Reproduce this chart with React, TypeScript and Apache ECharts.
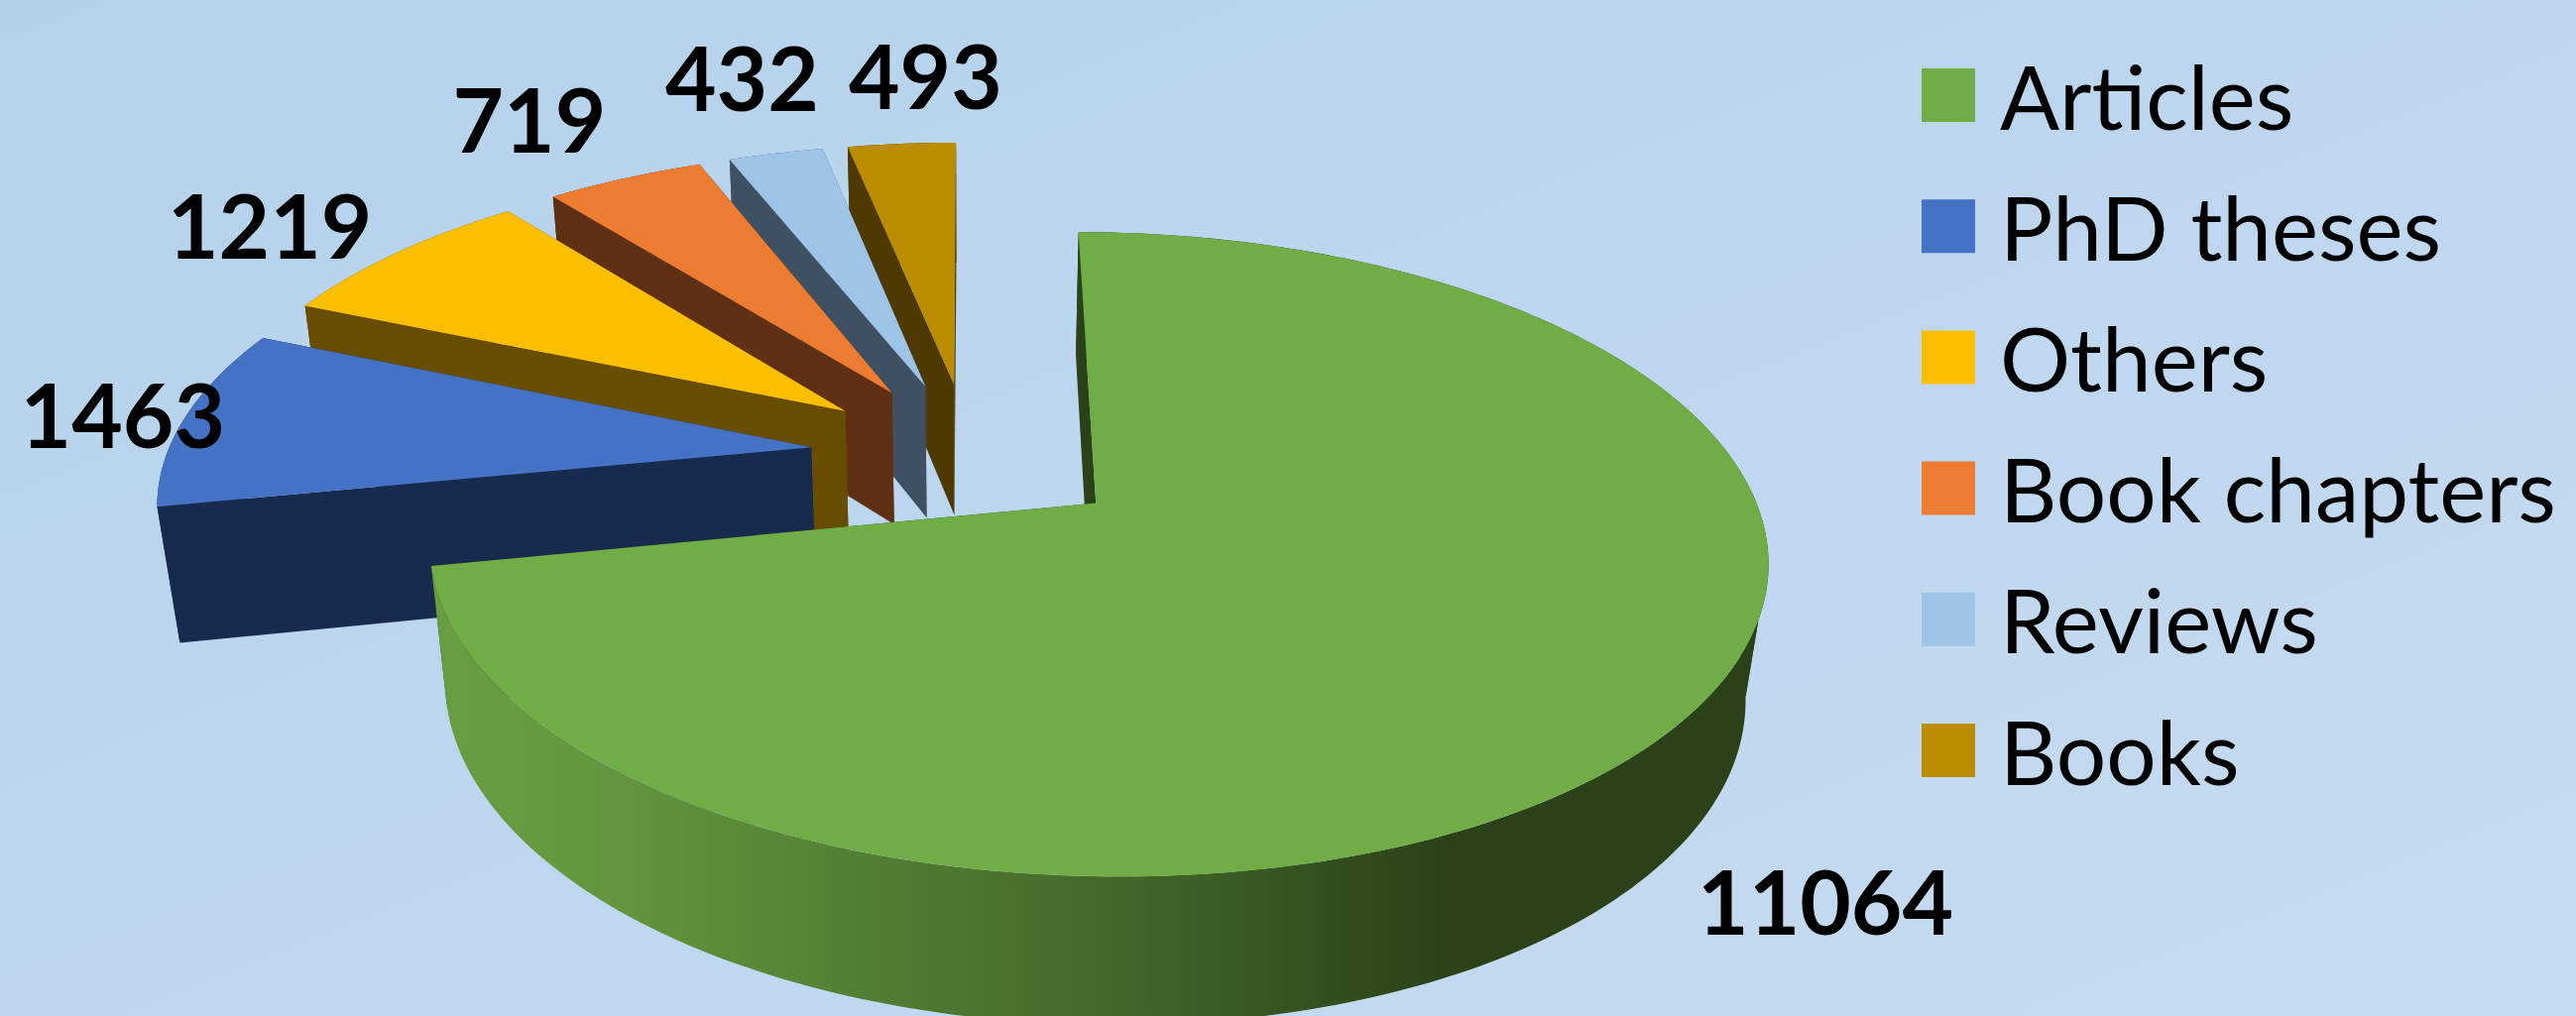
import React, { useEffect, useRef } from "react";
import * as echarts from "echarts";

// Data
const categories = ["Articles", "PhD theses", "Others", "Book chapters", "Reviews", "Books"];
const values = [11064, 1463, 1219, 719, 432, 493];

// Styles
const topColors = ["#70ad47", "#4472c4", "#fcbf00", "#eb7c31", "#9dc3e6", "#bb8c00"];
const wallColors = ["#2b4218", "#182b4f", "#664d00", "#5f3014", "#3f5062", "#4e3a00"];

// Layout of the perspective drawing (pixels, disk-radius units)
const VIEW = { vx: 977.7, vy: 459, rx: 650, ry: 301.6, h: 139, p: 0.155, q: 0.028, explode: 0.2477 };
const LABEL_NUDGE = [[149, 177], [-63, -3], [-128, -28], [-96, -60], [-34, -77], [24, -70]];
// Angles at which the outer wall turns from facing away to facing the viewer
const FOLD_ANGLES = [(100 * Math.PI) / 180, (263 * Math.PI) / 180];

const total = values.reduce((a, b) => a + b, 0);
const rad = (v: number) => (v / total) * Math.PI * 2;
const starts: number[] = [];
values.reduce((acc, v, i) => {
  starts[i] = acc;
  return acc + rad(v);
}, 0);

function project(X: number, V: number, z: number): number[] {
  const w = 1 - VIEW.p * V + VIEW.q * z;
  return [VIEW.vx + (X * VIEW.rx) / w, VIEW.vy + (V * VIEW.ry + VIEW.h * z) / w];
}

function renderSlice(i: number) {
  const a0 = starts[i];
  const a1 = a0 + rad(values[i]);
  const mid = (a0 + a1) / 2;
  const ax = VIEW.explode * Math.sin(mid);
  const ay = -VIEW.explode * Math.cos(mid);
  const rim = (t: number, z: number) => project(ax + Math.sin(t), ay - Math.cos(t), z);
  const apex = (z: number) => project(ax, ay, z);
  const arc = (from: number, to: number, z: number) => {
    const steps = Math.max(6, Math.ceil((to - from) / 0.02));
    const pts: number[][] = [];
    for (let k = 0; k <= steps; k++) pts.push(rim(from + ((to - from) * k) / steps, z));
    return pts;
  };
  const isMain = i === 0;
  const gradient: any = {
    type: "linear",
    x: 0,
    y: 0,
    x2: 1,
    y2: 0,
    colorStops: [
      { offset: 0, color: "#689e42" },
      { offset: 0.12, color: "#64983f" },
      { offset: 0.5, color: "#44692a" },
      { offset: 0.76, color: "#2b4218" },
      { offset: 1, color: "#2b4218" },
    ],
  };
  const poly = (points: number[][], fill: any) => ({
    type: "polygon",
    shape: { points },
    style: { fill, stroke: null },
  });
  const cuts = [a0, ...FOLD_ANGLES.filter((f) => f > a0 && f < a1), a1];
  const walls: any[] = [];
  for (let k = 0; k < cuts.length - 1; k++) {
    const front = isMain && k === cuts.length - 2;
    walls.push(
      poly(
        [...arc(cuts[k], cuts[k + 1], 0), ...arc(cuts[k], cuts[k + 1], 1).reverse()],
        front ? gradient : wallColors[i]
      )
    );
  }
  const children: any[] = [
    poly([apex(0), rim(a1, 0), rim(a1, 1), apex(1)], wallColors[i]),
    poly([apex(0), rim(a0, 0), rim(a0, 1), apex(1)], wallColors[i]),
    ...walls,
    poly([apex(0), ...arc(a0, a1, 0)], topColors[i]),
  ];
  const anchor = rim(mid, 0);
  children.push({
    type: "text",
    x: anchor[0] + LABEL_NUDGE[i][0],
    y: anchor[1] + LABEL_NUDGE[i][1],
    z2: 100,
    style: {
      text: String(values[i]),
      fill: "#000000",
      font: "bold 89px Lato",
      align: "center",
      verticalAlign: "middle",
    },
  });
  return { type: "group", children };
}

export default function App() {
  const ref = useRef<HTMLDivElement>(null);
  useEffect(() => {
    const chart = echarts.init(ref.current!, undefined, { renderer: "svg" });
    chart.setOption({
      animation: false,
      backgroundColor: {
        type: "linear",
        x: 0,
        y: 0,
        x2: 1,
        y2: 1,
        colorStops: [
          { offset: 0, color: "#b5d2ec" },
          { offset: 1, color: "#c6dbf1" },
        ],
      },
      legend: {
        orient: "vertical",
        left: 1938,
        top: 51.5,
        padding: 0,
        icon: "rect",
        itemWidth: 54,
        itemHeight: 54,
        itemGap: 43.2,
        data: categories,
        selectedMode: false,
        textStyle: {
          fontFamily: "Lato",
          fontSize: 89,
          color: "#000000",
          padding: [0, 0, 0, 20],
        },
      },
      series: categories.map((name, i) => ({
        type: "custom",
        name,
        coordinateSystem: "none",
        z: 10 - i,
        silent: true,
        clip: false,
        itemStyle: { color: topColors[i] },
        data: [[values[i]]],
        renderItem: () => renderSlice(i),
      })),
    });
    return () => chart.dispose();
  }, []);
  return <div ref={ref} style={{ position: "fixed", left: 0, top: 0, width: 2598, height: 1025 }} />;
}
